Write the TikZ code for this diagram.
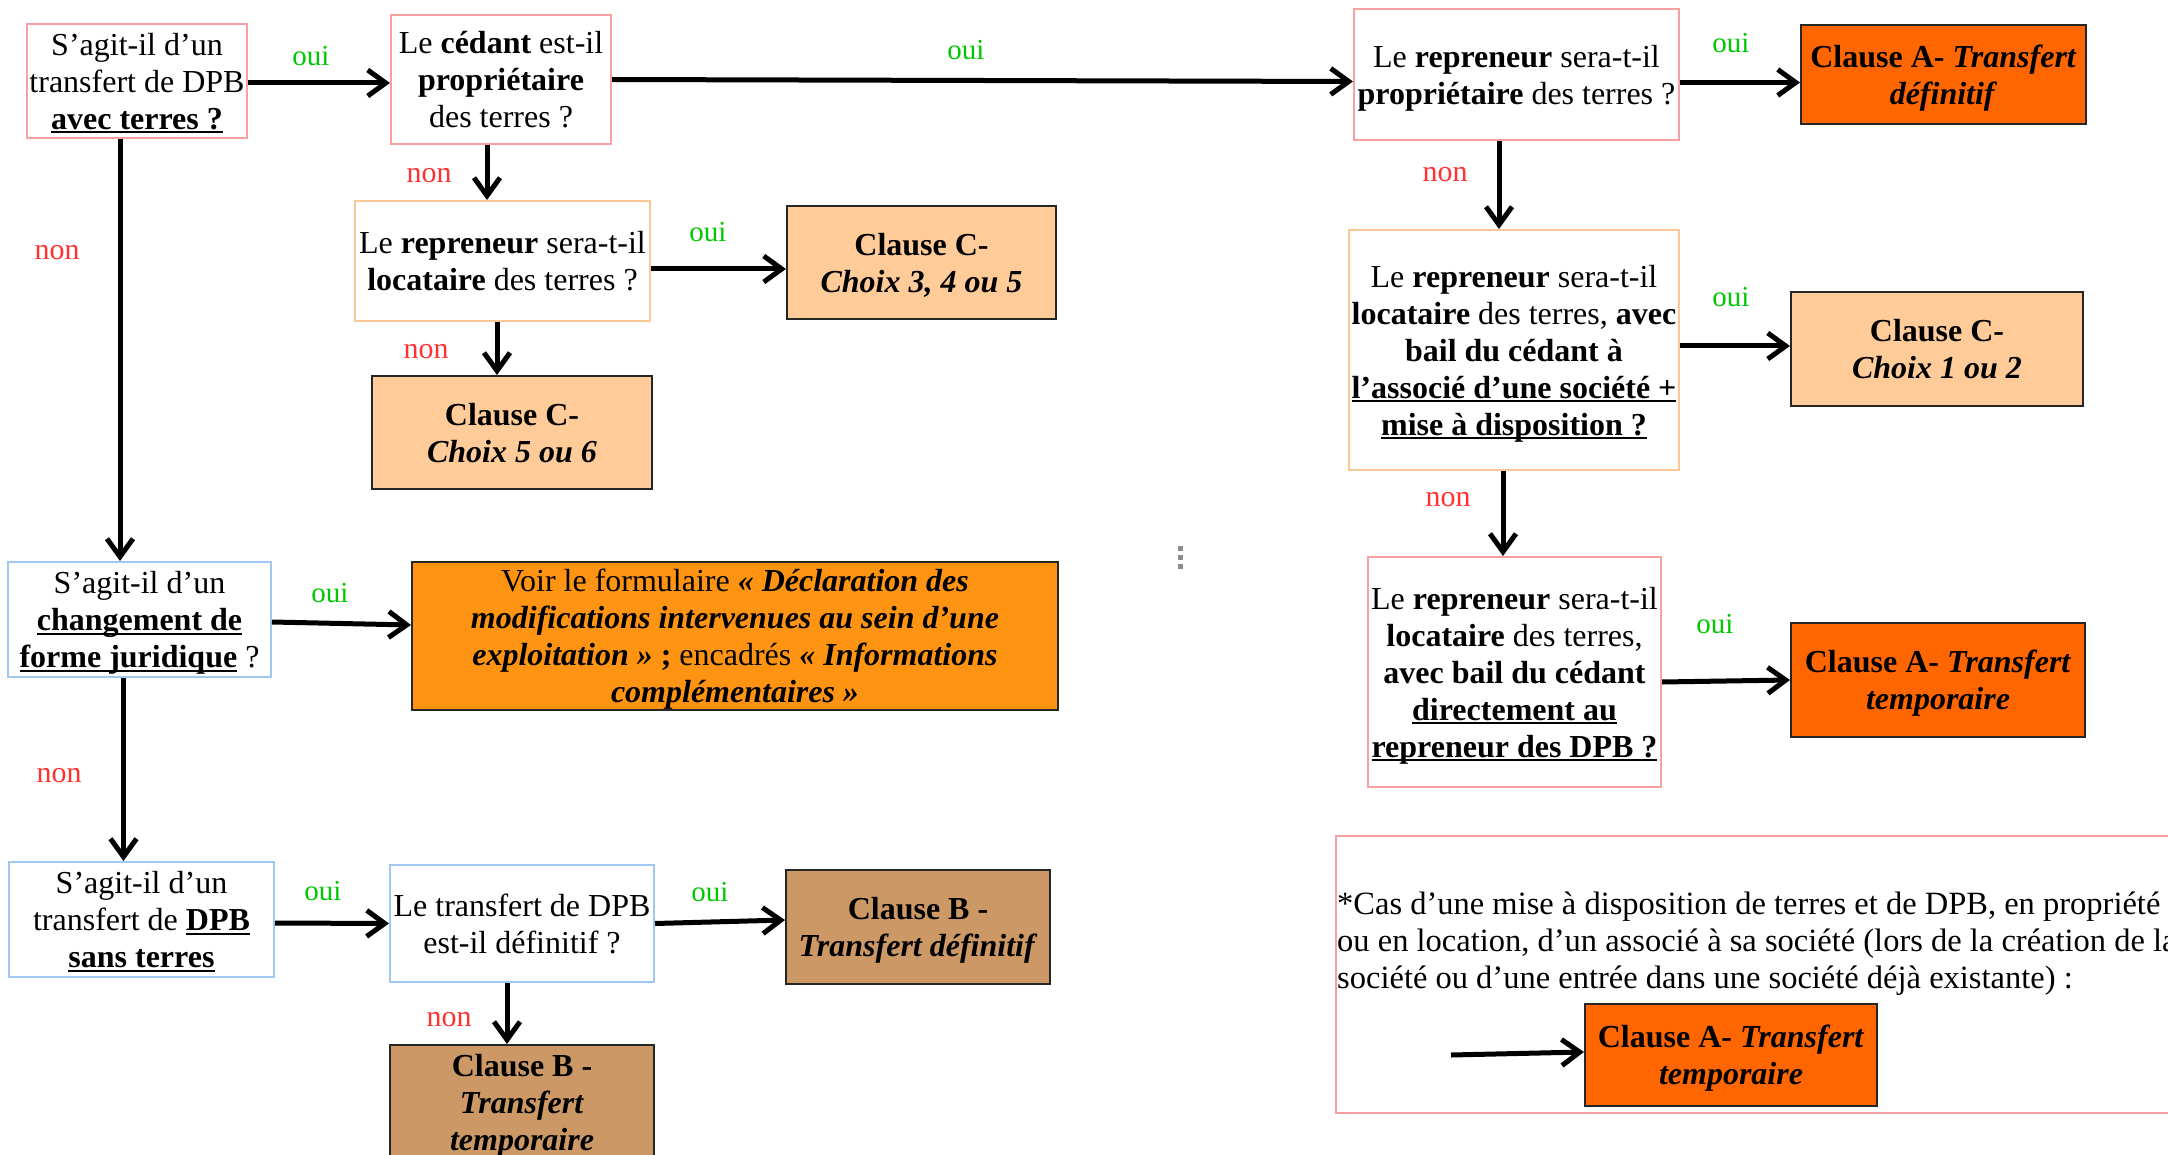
\documentclass[tikz,border=0pt]{standalone}
\usepackage{fontspec}
\setmainfont{Liberation Serif}
\usetikzlibrary{arrows.meta}
\definecolor{pinkb}{RGB}{246,160,160}
\definecolor{orngb}{RGB}{250,200,150}
\definecolor{blueb}{RGB}{160,200,240}
\definecolor{ouigreen}{RGB}{0,200,0}
\definecolor{nonred}{RGB}{255,50,50}
\definecolor{clA}{RGB}{255,102,0}
\definecolor{clC}{RGB}{255,204,153}
\definecolor{clB}{RGB}{204,153,102}
\definecolor{voirf}{RGB}{255,148,18}
\newcommand\ulx[1]{\leavevmode\setbox0\hbox{#1}\rlap{\rule[-4pt]{\wd0}{2pt}}\box0}
\tikzset{
  base/.style={align=center, inner sep=0pt, font=\fontsize{32}{37}\selectfont, text depth=0pt},
  qpink/.style={base, draw=pinkb, line width=2pt, fill=white},
  qorng/.style={base, draw=orngb, line width=2pt, fill=white},
  qblue/.style={base, draw=blueb, line width=2pt, fill=white},
  clause/.style={base, draw=black!85, line width=2pt},
  arr/.style={line width=5pt, -{Straight Barb[length=18pt,width=26pt]}},
  lbloui/.style={text=ouigreen, inner sep=0pt, font=\fontsize{29}{32}\selectfont},
  lblnon/.style={text=nonred, inner sep=0pt, font=\fontsize{30}{32}\selectfont},
}
\begin{document}
\begin{tikzpicture}[x=1pt,y=-1pt]
\useasboundingbox (0,0) rectangle (2168,1155);

% left column
\node[qpink, minimum width=220pt, minimum height=114pt] (b1) at (137,81)
  {S’agit-il d’un\\transfert de DPB\\\textbf{\ulx{avec terres ?}}};
\node[qpink, minimum width=220pt, minimum height=129pt] (b2) at (501,79.5)
  {Le \textbf{cédant} est-il\\\textbf{propriétaire}\\des terres ?};
\node[qorng, minimum width=295pt, minimum height=120pt] (l2) at (502.5,261)
  {Le \textbf{repreneur} sera-t-il\\\textbf{locataire} des terres ?};
\node[clause, fill=clC, minimum width=269pt, minimum height=113pt] (cc345) at (921.5,262.5)
  {\textbf{Clause C-}\\\textbf{\textit{Choix 3, 4 ou 5}}};
\node[clause, fill=clC, minimum width=280pt, minimum height=113pt] (cc56) at (512,432.5)
  {\textbf{Clause C-}\\\textbf{\textit{Choix 5 ou 6}}};
\node[qblue, minimum width=263pt, minimum height=115pt] (l3) at (139.5,619.5)
  {S’agit-il d’un\\\textbf{\ulx{changement de}}\\\textbf{\ulx{forme juridique}} ?};
\node[clause, fill=voirf, minimum width=646pt, minimum height=148pt] (voir) at (735,636)
  {Voir le formulaire \textbf{\textit{« Déclaration des}}\\
   \textbf{\textit{modifications intervenues au sein d’une}}\\
   \textbf{\textit{exploitation »}} \textbf{;} encadrés \textbf{\textit{« Informations}}\\
   \textbf{\textit{complémentaires »}}};
\node[qblue, minimum width=265pt, minimum height=115pt] (l4) at (141.5,919.5)
  {S’agit-il d’un\\transfert de \textbf{\ulx{DPB}}\\\textbf{\ulx{sans terres}}};
\node[qblue, minimum width=264pt, minimum height=117pt] (l5) at (522,923.5)
  {Le transfert de DPB\\est-il définitif ?};
\node[clause, fill=clB, minimum width=264pt, minimum height=114pt] (cbd) at (918,927)
  {\textbf{Clause B -}\\\textbf{\textit{Transfert définitif}}};
\node[clause, fill=clB, minimum width=264pt, minimum height=140pt, anchor=north] (cbt) at (522,1044) {};
\node[base] (cbttext) at (522,1102)
  {\textbf{Clause B -}\\\textbf{\textit{Transfert}}\\\textbf{\textit{temporaire}}};

% right column
\node[qpink, minimum width=325pt, minimum height=131pt] (r1) at (1516.5,74.5)
  {Le \textbf{repreneur} sera-t-il\\\textbf{propriétaire} des terres ?};
\node[clause, fill=clA, minimum width=285pt, minimum height=99pt] (ca1) at (1943.5,74.5)
  {\textbf{Clause A- \textit{Transfert}}\\\textbf{\textit{définitif}}};
\node[qorng, minimum width=330pt, minimum height=240pt] (r2) at (1514,350)
  {Le \textbf{repreneur} sera-t-il\\\textbf{locataire} des terres, \textbf{avec}\\\textbf{bail du cédant à}\\\textbf{\ulx{l’associé d’une société +}}\\\textbf{\ulx{mise à disposition ?}}};
\node[clause, fill=clC, minimum width=292pt, minimum height=114pt] (cc12) at (1937,349)
  {\textbf{Clause C-}\\\textbf{\textit{Choix 1 ou 2}}};
\node[qpink, minimum width=293pt, minimum height=230pt] (r3) at (1514.5,672)
  {Le \textbf{repreneur} sera-t-il\\\textbf{locataire} des terres,\\\textbf{avec bail du cédant}\\\textbf{\ulx{directement au}}\\\textbf{\ulx{repreneur des DPB ?}}};
\node[clause, fill=clA, minimum width=294pt, minimum height=114pt] (ca2) at (1938,680)
  {\textbf{Clause A- \textit{Transfert}}\\\textbf{\textit{temporaire}}};

% note box
\draw[pinkb, line width=2pt] (1336,836) rectangle (2185,1113);
\node[base, align=left, anchor=west, font=\fontsize{32.5}{37}\selectfont] (notetext) at (1337,940)
  {*Cas d’une mise à disposition de terres et de DPB, en propriété\\ou en location, d’un associé à sa société (lors de la création de la\\société ou d’une entrée dans une société déjà existante) :};
\node[clause, fill=clA, minimum width=292pt, minimum height=102pt] (ca3) at (1731,1055)
  {\textbf{Clause A- \textit{Transfert}}\\\textbf{\textit{temporaire}}};
\coordinate (nstart) at (1451,1055);

% dots
\foreach \yy in {548,557,566}
  \fill[black!45] (1177.5,\yy-2.5) rectangle (1182.5,\yy+2.5);

% connectors
\draw[arr] ([yshift=-2pt]b1.east) -- ([yshift=-3.5pt]b2.west);
\draw[arr] (b2.east) -- ([yshift=-7pt]r1.west);
\draw[arr] ([yshift=-8pt]r1.east) -- ([yshift=-8pt]ca1.west);
\draw[arr] ([xshift=-14pt]b2.south) -- ([xshift=-15.5pt]l2.north);
\draw[arr] ([yshift=-8pt]l2.east) -- ([yshift=-6.5pt]cc345.west);
\draw[arr] ([xshift=-5.5pt]l2.south) -- ([xshift=-15pt]cc56.north);
\draw[arr] ([xshift=-17pt]b1.south) -- ([xshift=-19.5pt]l3.north);
\draw[arr] ([yshift=-2.5pt]l3.east) -- ([yshift=11pt]voir.west);
\draw[arr] ([xshift=-16pt]l3.south) -- ([xshift=-18pt]l4.north);
\draw[arr] ([yshift=-3.5pt]l4.east) -- (l5.west);
\draw[arr] (l5.east) -- ([yshift=7pt]cbd.west);
\draw[arr] ([xshift=-15pt]l5.south) -- ([xshift=-15pt]cbt.north);
\draw[arr] ([xshift=-17.5pt]r1.south) -- ([xshift=-15pt]r2.north);
\draw[arr] ([yshift=4pt]r2.east) -- ([yshift=3pt]cc12.west);
\draw[arr] ([xshift=-11pt]r2.south) -- ([xshift=-11.5pt]r3.north);
\draw[arr] ([yshift=-10pt]r3.east) -- (ca2.west);
\draw[arr] (nstart) -- ([yshift=3pt]ca3.west);

% labels
\node[lbloui] (o1) at (311,56) {oui};
\node[lbloui] (o2) at (966,50) {oui};
\node[lbloui] (o3) at (1731,43) {oui};
\node[lbloui] (o4) at (1731,297) {oui};
\node[lbloui] (o5) at (708,232) {oui};
\node[lbloui] (o6) at (1715,624) {oui};
\node[lbloui] (o7) at (330,593) {oui};
\node[lbloui] (o8) at (323,891) {oui};
\node[lbloui] (o9) at (710,892) {oui};
\node[lblnon] (n1) at (429,176) {non};
\node[lblnon] (n2) at (1445,175) {non};
\node[lblnon] (n3) at (1448,500) {non};
\node[lblnon] (n4) at (426,352) {non};
\node[lblnon] (n5) at (57,253) {non};
\node[lblnon] (n6) at (59,776) {non};
\node[lblnon] (n7) at (449,1020) {non};
\end{tikzpicture}
\end{document}
